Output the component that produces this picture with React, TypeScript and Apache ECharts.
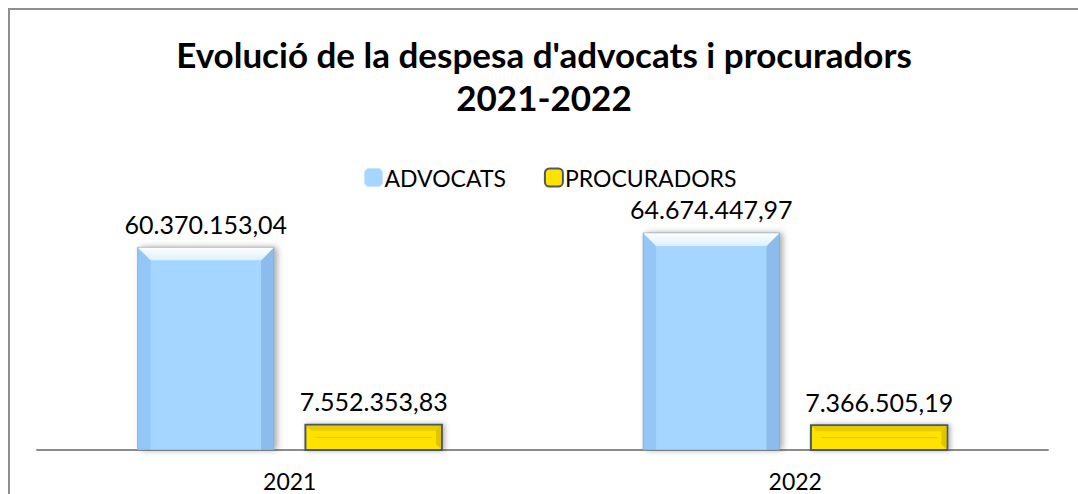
import React, { useEffect, useRef } from "react";
import * as echarts from "echarts";

const years = ["2021", "2022"];
const advocats = [60370153.04, 64674447.97];
const procuradors = [7552353.83, 7366505.19];
const seriesNames = ["ADVOCATS", "PROCURADORS"];
const titleLines = ["Evolució de la despesa d'advocats i procuradors", "2021-2022"];

const FONT = "Lato, 'Liberation Sans', sans-serif";

function fmt(v: number): string {
  const [i, d] = v.toFixed(2).split(".");
  return i.replace(/\B(?=(\d{3})+(?!\d))/g, ".") + "," + d;
}

function makeRender(kind: "blue" | "yellow", offset: number) {
  return (params: any, api: any) => {
    const cat = api.value(0);
    const val = api.value(1);
    const base = api.coord([cat, 0]);
    const top = api.coord([cat, val]);
    const band = api.size([1, 0])[0];
    const w = band * 0.27;
    const cx = base[0] + offset * band;
    const x0 = cx - w / 2;
    const y0 = top[1];
    const h = base[1] - top[1];
    const children: any[] = [];
    if (kind === "blue") {
      const b = Math.min(13, h / 2);
      children.push({
        type: "rect",
        shape: { x: x0, y: y0, width: w, height: h },
        style: { fill: "#A4D6FF", shadowBlur: 6, shadowOffsetX: 3, shadowOffsetY: 0, shadowColor: "rgba(0,0,0,0.35)" },
      });
      children.push({
        type: "polygon",
        shape: { points: [[x0, y0], [x0 + b, y0 + b], [x0 + b, y0 + h], [x0, y0 + h]] },
        style: { fill: "#93C7F7" },
      });
      children.push({
        type: "polygon",
        shape: { points: [[x0 + w, y0], [x0 + w - b, y0 + b], [x0 + w - b, y0 + h], [x0 + w, y0 + h]] },
        style: { fill: "#8CBCEC" },
      });
      children.push({
        type: "polygon",
        shape: { points: [[x0, y0], [x0 + w, y0], [x0 + w - b, y0 + b], [x0 + b, y0 + b]] },
        style: {
          fill: new echarts.graphic.LinearGradient(0, 0, 0, 1, [
            { offset: 0, color: "#FFFFFF" },
            { offset: 1, color: "#DDF0FF" },
          ]),
        },
      });
      children.push({
        type: "rect",
        shape: { x: x0, y: y0, width: w, height: h },
        style: { fill: "none", stroke: "rgba(120,150,180,0.5)", lineWidth: 1 },
      });
    } else {
      const b = Math.min(6, h / 3);
      children.push({
        type: "rect",
        shape: { x: x0, y: y0, width: w, height: h },
        style: { fill: "#FFE200", stroke: "#4E5865", lineWidth: 2, shadowBlur: 5, shadowOffsetX: 2, shadowColor: "rgba(0,0,0,0.3)" },
      });
      children.push({
        type: "polygon",
        shape: { points: [[x0 + 1, y0 + 1], [x0 + w - 1, y0 + 1], [x0 + w - b, y0 + b], [x0 + b, y0 + b]] },
        style: { fill: "#E8CC00" },
      });
      children.push({
        type: "polygon",
        shape: { points: [[x0 + w - 1, y0 + 1], [x0 + w - b, y0 + b], [x0 + w - b, y0 + h - b], [x0 + w - 1, y0 + h - 1]] },
        style: { fill: "#E0C400" },
      });
      children.push({
        type: "line",
        shape: { x1: x0 + b + 4, y1: y0 + h / 2, x2: x0 + w - b - 4, y2: y0 + h / 2 },
        style: { stroke: "#E0C300", lineWidth: 1 },
      });
    }
    children.push({
      type: "text",
      style: {
        x: cx,
        y: y0 - 11,
        text: fmt(val),
        align: "center",
        verticalAlign: "bottom",
        fill: "#000",
        font: `25px ${FONT}`,
      },
    });
    return { type: "group", children };
  };
}

export default function App() {
  const ref = useRef<HTMLDivElement>(null);
  useEffect(() => {
    if (!ref.current) return;
    const chart = echarts.init(ref.current, undefined, { renderer: "svg" });
    chart.setOption({
      animation: false,
      backgroundColor: "#fff",
      title: {
        text: titleLines.join("\n"),
        left: "center",
        top: 17,
        textStyle: { fontFamily: FONT, fontWeight: "bold", fontSize: 35, lineHeight: 43, color: "#000" },
      },
      legend: {
        top: 151,
        left: 349,
        itemWidth: 18,
        itemHeight: 18,
        itemGap: 38,
        textStyle: { fontFamily: FONT, fontSize: 23, color: "#000", padding: [0, 0, 0, -3] },
        data: [
          { name: seriesNames[0], itemStyle: { color: "#A4D6FF", borderColor: "#C8E4FA", borderWidth: 1 } },
          { name: seriesNames[1], itemStyle: { color: "#FFE200", borderColor: "#4E5865", borderWidth: 2 } },
        ],
      },
      grid: { left: 27, right: 30, top: 205, bottom: 44 },
      xAxis: {
        type: "category",
        data: years,
        axisLine: { lineStyle: { color: "#8C8C8C", width: 2 } },
        axisTick: { show: false },
        axisLabel: { fontFamily: FONT, fontSize: 23, lineHeight: 23, color: "#000", margin: 19 },
      },
      yAxis: { type: "value", min: 0, max: 70000000, show: false, splitLine: { show: false } },
      series: [
        {
          name: seriesNames[0],
          type: "custom",
          itemStyle: { color: "#A4D6FF" },
          renderItem: makeRender("blue", -0.166),
          data: advocats.map((v, i) => [i, v]),
          z: 2,
        },
        {
          name: seriesNames[1],
          type: "custom",
          itemStyle: { color: "#FFE200" },
          renderItem: makeRender("yellow", 0.166),
          data: procuradors.map((v, i) => [i, v]),
          z: 2,
        },
      ],
    });
    return () => chart.dispose();
  }, []);
  return (
    <div
      style={{
        position: "fixed",
        left: 8,
        top: 8,
        width: 1070,
        height: 486,
        overflow: "hidden",
        borderTop: "2px solid #8E8E8E",
        borderLeft: "2px solid #8E8E8E",
        boxSizing: "border-box",
        background: "#fff",
      }}
    >
      <div ref={ref} style={{ position: "absolute", left: 0, top: 0, width: 1068, height: 484 }} />
    </div>
  );
}
